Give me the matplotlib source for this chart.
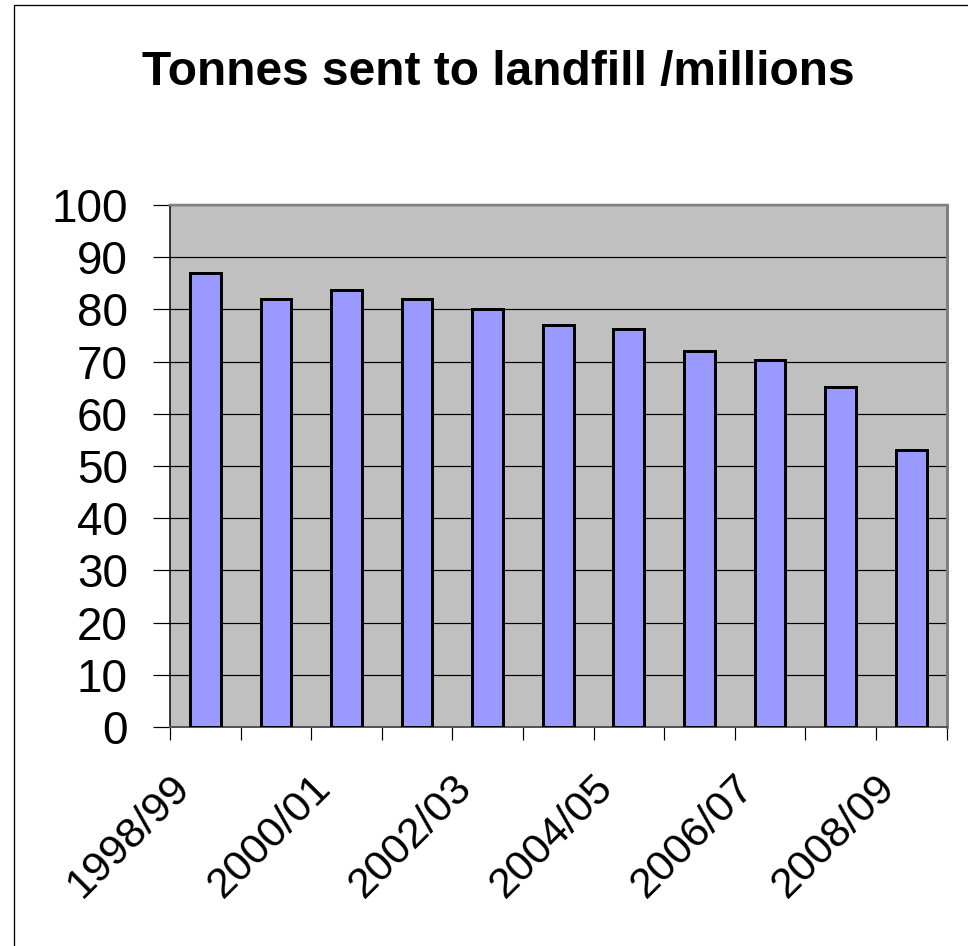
import matplotlib
matplotlib.use("Agg")
import matplotlib.pyplot as plt
import matplotlib.transforms as mtransforms
from matplotlib.patches import Rectangle
import numpy as np

categories = ["1998/99", "1999/00", "2000/01", "2001/02", "2002/03", "2003/04",
              "2004/05", "2005/06", "2006/07", "2007/08", "2008/09"]
values = [87, 82, 83.8, 82, 80, 77, 76.3, 72, 70.3, 65.2, 53]
yticks = [0, 10, 20, 30, 40, 50, 60, 70, 80, 90, 100]
title = "Tonnes sent to landfill /millions"

plt.rcParams['font.family'] = ['Liberation Sans', 'DejaVu Sans']

PX = 72 / 100  # points per pixel at dpi 100

fig = plt.figure(figsize=(9.68, 9.46), dpi=100)
ax = fig.add_axes([170/968, 1-727/946, (946.5-170)/968, (727-205)/946])

# figure border (left & top visible)
fig.patches.append(Rectangle((14/968, -0.05), 1.2, 1 - 5/946 + 0.05, transform=fig.transFigure,
                             fill=False, edgecolor='black', linewidth=1.3 * PX, zorder=-1))

x = np.arange(len(categories))
ax.set_facecolor('#C0C0C0')
ax.bar(x, values, width=0.435, color='#9999FF', edgecolor='black', linewidth=3 * PX, zorder=3)

ax.set_xlim(-0.5, len(categories) - 0.5)
ax.set_ylim(0, 100)
ax.set_yticks(yticks)
ax.set_yticklabels([str(v) for v in yticks], fontsize=33)
ax.tick_params(axis='y', direction='out', length=17 * PX, width=1.2 * PX, pad=25 * PX, color='black')
ax.yaxis.grid(True, color='black', linewidth=1.2 * PX, zorder=1)
ax.set_axisbelow(True)

label_idx = x[::2]
ax.set_xticks(label_idx)
ax.set_xticklabels([categories[i] for i in label_idx], fontsize=31, rotation=45,
                   ha='right', va='top', rotation_mode='anchor')
ax.tick_params(axis='x', which='major', length=0, pad=40 * PX)
ax.set_xticks(np.arange(len(categories) + 1) - 0.5, minor=True)
ax.tick_params(axis='x', which='minor', direction='out', length=13 * PX, width=1.2 * PX, color='black')

offset = mtransforms.ScaledTranslation(-36/100, 0, fig.dpi_scale_trans)
for lab in ax.get_xticklabels():
    lab.set_transform(lab.get_transform() + offset)

ax.spines['left'].set_color('black')
ax.spines['left'].set_linewidth(1.5 * PX)
ax.spines['bottom'].set_color('#555555')
ax.spines['bottom'].set_linewidth(2 * PX)
ax.spines['top'].set_color('#808080')
ax.spines['top'].set_linewidth(2.5 * PX)
ax.spines['right'].set_color('#808080')
ax.spines['right'].set_linewidth(3 * PX)

fig.text(498/968, 1 - 72/946, title, ha='center', va='center', fontsize=34.5, fontweight='bold')

fig.savefig('out.png', dpi=100)
